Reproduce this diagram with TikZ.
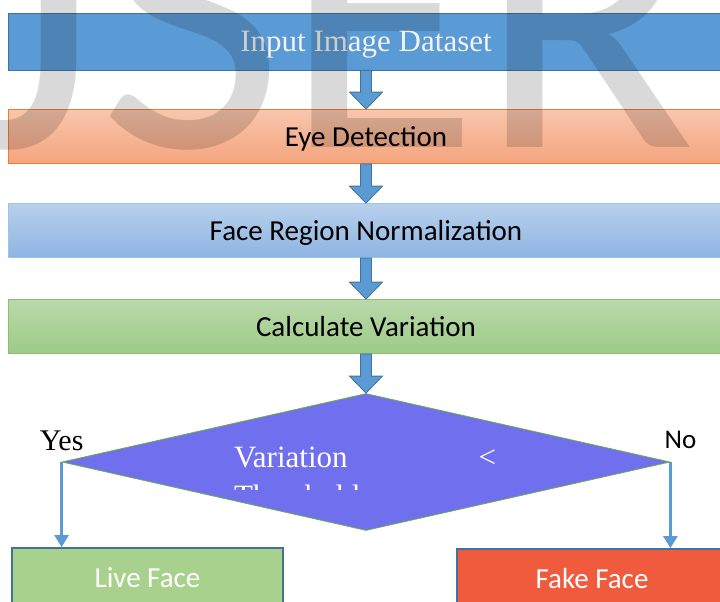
\documentclass[tikz,border=0pt]{standalone}
\usepackage{fontspec}
\setmainfont{Liberation Serif}
\newfontfamily\calibri{Carlito}
\usetikzlibrary{shapes.geometric,arrows.meta,calc,positioning}

\definecolor{inblue}{HTML}{5B9BD5}
\definecolor{inedge}{HTML}{41719C}
\definecolor{eyetop}{HTML}{F8C6AC}
\definecolor{eyebot}{HTML}{F4A47E}
\definecolor{eyeedge}{HTML}{ED7D31}
\definecolor{normtop}{HTML}{B8D0EC}
\definecolor{normbot}{HTML}{8EB4E2}
\definecolor{normedge}{HTML}{9DC3E6}
\definecolor{caltop}{HTML}{B9D9AB}
\definecolor{calbot}{HTML}{9DCB86}
\definecolor{caledge}{HTML}{8CC06C}
\definecolor{decfill}{HTML}{7070EE}
\definecolor{decedge}{HTML}{70AD47}
\definecolor{livefill}{HTML}{A9D18E}
\definecolor{fakefill}{HTML}{F15B3D}

% block arrow from the bottom of one box to the top of the next
\newcommand{\blockdown}[2]{%
  \draw[blockarrow] ($(#1.south)+(-5.5,0)$) -- ($(#2.north)+(-5.5,-17)$)
    -- ($(#2.north)+(-16.5,-17)$) -- (#2.north) -- ($(#2.north)+(16.5,-17)$)
    -- ($(#2.north)+(5.5,-17)$) -- ($(#1.south)+(5.5,0)$) -- cycle;}

\begin{document}
\begin{tikzpicture}[x=1pt,y=-1pt,
    stepbox/.style={rectangle,minimum width=716pt,minimum height=54pt,
      inner sep=0pt,line width=0.8pt,text height=19pt,text depth=0pt,
      font=\calibri\fontsize{29}{34}\selectfont},
    endbox/.style={rectangle,minimum height=60pt,inner sep=0pt,
      draw=inedge,line width=1.8pt,text=white,text height=19pt,text depth=0pt,
      font=\calibri\fontsize{29}{34}\selectfont},
    blockarrow/.style={fill=inblue,draw=inedge,line width=0.8pt},
    thinarrow/.style={draw=inblue,line width=2.6pt,
      -{Triangle[width=14pt,length=12pt]}},
    decision/.style={diamond,minimum width=608pt,minimum height=137pt,
      inner sep=0pt,fill=decfill,draw=decedge,line width=0.8pt},
    serifbig/.style={font=\fontsize{31}{38}\selectfont},
    watermark/.style={opacity=0.15,text=black,inner sep=0pt,
      font=\calibri\fontsize{401}{401}\selectfont}]

  \useasboundingbox (0,0) rectangle (720,602);

  % Steps
  \node[stepbox,minimum height=57pt,fill=inblue,draw=inedge,text=white!95!black,
    serifbig,text height=21pt,text depth=-4pt] (input) at (366,41.5)
    {Input Image Dataset};
  \node[stepbox,top color=eyetop,bottom color=eyebot,draw=eyeedge]
    (eye) at (366,136.5) {Eye Detection};
  \node[stepbox,top color=normtop,bottom color=normbot,draw=normedge]
    (norm) at (366,230.5) {Face Region Normalization};
  \node[stepbox,top color=caltop,bottom color=calbot,draw=caledge]
    (calc) at (366,326.5) {Calculate Variation};

  % Decision
  \node[decision] (decide) at (366,462) {};
  \node[serifbig,text=white,text width=262pt,inner sep=0pt,anchor=base]
    (vartext) at (365,467) {Variation\hfill<};
  \begin{scope}
    \clip (0,380) rectangle (720,489);
    \node[serifbig,text=white,inner sep=0pt,anchor=base west]
      (thrtext) at (vartext.base west |- 0,506) {Threshold};
  \end{scope}

  % Outcomes
  \node[endbox,minimum width=271pt,fill=livefill] (live) at (147.5,578) {Live Face};
  \node[endbox,minimum width=270pt,fill=fakefill] (fake) at (592,579) {Fake Face};

  \node[serifbig,inner sep=0pt,above=11pt of decide.west,
    font=\fontsize{30}{36}\selectfont] (yes) {Yes};
  \node[inner sep=0pt,anchor=base,font=\calibri\fontsize{27}{32}\selectfont]
    (no) at ($(decide.east)+(10,-14)$) {No};

  % Arrows
  \blockdown{input}{eye}
  \blockdown{eye}{norm}
  \blockdown{norm}{calc}
  \blockdown{calc}{decide}
  \draw[thinarrow] (decide.west) -- (decide.west |- live.north);
  \draw[thinarrow] (decide.east) -- (decide.east |- fake.north);

  % Watermark
  \node[watermark,anchor=base west] (mark) at (-130,147) {IJSER};
\end{tikzpicture}
\end{document}
